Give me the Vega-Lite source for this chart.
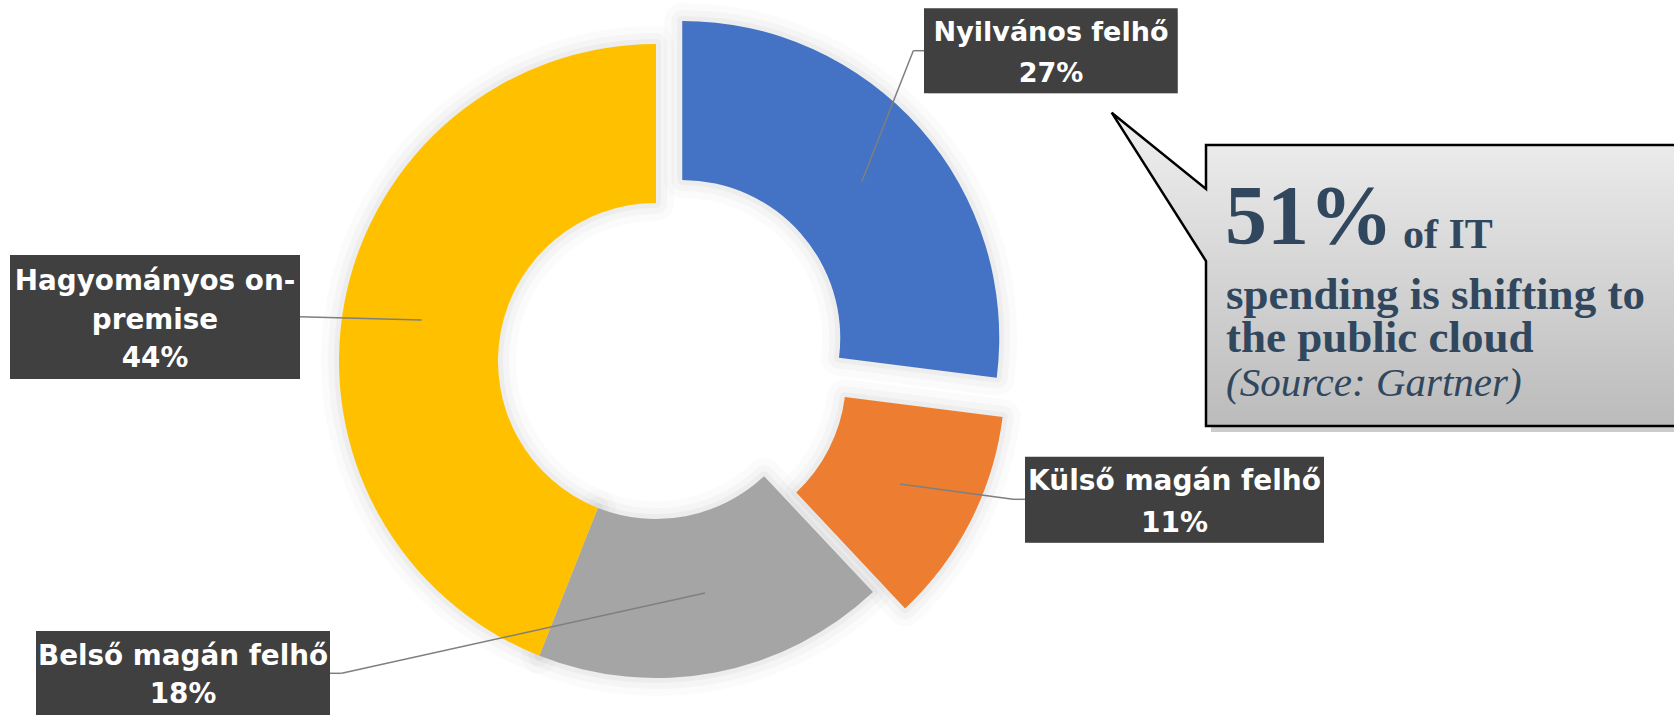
{
  "$schema": "https://vega.github.io/schema/vega-lite/v6.json",
  "width": 1674,
  "height": 715,
  "autosize": "none",
  "padding": 0,
  "background": "white",
  "config": {"view": {"stroke": null}},
  "datasets": {
    "slices": [
      {"category": "Nyilvános felhő", "value": 27},
      {"category": "Külső magán felhő", "value": 11},
      {"category": "Belső magán felhő", "value": 18},
      {"category": "Hagyományos on-premise", "value": 44}
    ]
  },
  "layer": [
    {
      "data": {"name": "slices"},
      "transform": [
        {"window": [{"op": "row_number", "as": "idx"}]},
        {"stack": "value", "groupby": [], "sort": [{"field": "idx", "order": "ascending"}], "as": ["t0", "t1"]},
        {"filter": "datum.idx >= 3"}
      ],
      "mark": {"type": "arc", "innerRadius": 158, "outerRadius": 317, "fill": "#000", "fillOpacity": 0, "stroke": "#000", "strokeOpacity": 0.016, "strokeWidth": 36, "strokeJoin": "round"},
      "encoding": {
        "x": {"datum": 656, "type": "quantitative", "scale": {"domain": [0, 1674], "nice": false, "zero": false}, "axis": null},
        "y": {"datum": 361, "type": "quantitative", "scale": {"domain": [0, 715], "nice": false, "zero": false, "reverse": true}, "axis": null},
        "theta": {"field": "t0", "type": "quantitative", "stack": null, "scale": {"domain": [0, 100], "range": [0, 6.283185307179586]}},
        "theta2": {"field": "t1"}
      }
    },
    {
      "data": {"name": "slices"},
      "transform": [
        {"window": [{"op": "row_number", "as": "idx"}]},
        {"stack": "value", "groupby": [], "sort": [{"field": "idx", "order": "ascending"}], "as": ["t0", "t1"]},
        {"filter": "datum.idx >= 3"}
      ],
      "mark": {"type": "arc", "innerRadius": 158, "outerRadius": 317, "fill": "#000", "fillOpacity": 0, "stroke": "#000", "strokeOpacity": 0.022, "strokeWidth": 22, "strokeJoin": "round"},
      "encoding": {
        "x": {"datum": 656, "type": "quantitative", "axis": null},
        "y": {"datum": 361, "type": "quantitative", "axis": null},
        "theta": {"field": "t0", "type": "quantitative", "stack": null},
        "theta2": {"field": "t1"}
      }
    },
    {
      "data": {"name": "slices"},
      "transform": [
        {"window": [{"op": "row_number", "as": "idx"}]},
        {"stack": "value", "groupby": [], "sort": [{"field": "idx", "order": "ascending"}], "as": ["t0", "t1"]},
        {"filter": "datum.idx >= 3"}
      ],
      "mark": {"type": "arc", "innerRadius": 158, "outerRadius": 317, "fill": "#000", "fillOpacity": 0, "stroke": "#000", "strokeOpacity": 0.032, "strokeWidth": 10, "strokeJoin": "round"},
      "encoding": {
        "x": {"datum": 656, "type": "quantitative", "axis": null},
        "y": {"datum": 361, "type": "quantitative", "axis": null},
        "theta": {"field": "t0", "type": "quantitative", "stack": null},
        "theta2": {"field": "t1"}
      }
    },
    {
      "data": {"name": "slices"},
      "transform": [
        {"window": [{"op": "row_number", "as": "idx"}]},
        {"stack": "value", "groupby": [], "sort": [{"field": "idx", "order": "ascending"}], "as": ["t0", "t1"]},
        {"filter": "datum.idx == 1"}
      ],
      "mark": {"type": "arc", "innerRadius": 158, "outerRadius": 317, "fill": "#000", "fillOpacity": 0, "stroke": "#000", "strokeOpacity": 0.016, "strokeWidth": 36, "strokeJoin": "round"},
      "encoding": {
        "x": {"datum": 682.25, "type": "quantitative", "axis": null},
        "y": {"datum": 337.9, "type": "quantitative", "axis": null},
        "theta": {"field": "t0", "type": "quantitative", "stack": null},
        "theta2": {"field": "t1"}
      }
    },
    {
      "data": {"name": "slices"},
      "transform": [
        {"window": [{"op": "row_number", "as": "idx"}]},
        {"stack": "value", "groupby": [], "sort": [{"field": "idx", "order": "ascending"}], "as": ["t0", "t1"]},
        {"filter": "datum.idx == 1"}
      ],
      "mark": {"type": "arc", "innerRadius": 158, "outerRadius": 317, "fill": "#000", "fillOpacity": 0, "stroke": "#000", "strokeOpacity": 0.022, "strokeWidth": 22, "strokeJoin": "round"},
      "encoding": {
        "x": {"datum": 682.25, "type": "quantitative", "axis": null},
        "y": {"datum": 337.9, "type": "quantitative", "axis": null},
        "theta": {"field": "t0", "type": "quantitative", "stack": null},
        "theta2": {"field": "t1"}
      }
    },
    {
      "data": {"name": "slices"},
      "transform": [
        {"window": [{"op": "row_number", "as": "idx"}]},
        {"stack": "value", "groupby": [], "sort": [{"field": "idx", "order": "ascending"}], "as": ["t0", "t1"]},
        {"filter": "datum.idx == 1"}
      ],
      "mark": {"type": "arc", "innerRadius": 158, "outerRadius": 317, "fill": "#000", "fillOpacity": 0, "stroke": "#000", "strokeOpacity": 0.032, "strokeWidth": 10, "strokeJoin": "round"},
      "encoding": {
        "x": {"datum": 682.25, "type": "quantitative", "axis": null},
        "y": {"datum": 337.9, "type": "quantitative", "axis": null},
        "theta": {"field": "t0", "type": "quantitative", "stack": null},
        "theta2": {"field": "t1"}
      }
    },
    {
      "data": {"name": "slices"},
      "transform": [
        {"window": [{"op": "row_number", "as": "idx"}]},
        {"stack": "value", "groupby": [], "sort": [{"field": "idx", "order": "ascending"}], "as": ["t0", "t1"]},
        {"filter": "datum.idx == 2"}
      ],
      "mark": {"type": "arc", "innerRadius": 158, "outerRadius": 317, "fill": "#000", "fillOpacity": 0, "stroke": "#000", "strokeOpacity": 0.016, "strokeWidth": 36, "strokeJoin": "round"},
      "encoding": {
        "x": {"datum": 688.1, "type": "quantitative", "axis": null},
        "y": {"datum": 377.3, "type": "quantitative", "axis": null},
        "theta": {"field": "t0", "type": "quantitative", "stack": null},
        "theta2": {"field": "t1"}
      }
    },
    {
      "data": {"name": "slices"},
      "transform": [
        {"window": [{"op": "row_number", "as": "idx"}]},
        {"stack": "value", "groupby": [], "sort": [{"field": "idx", "order": "ascending"}], "as": ["t0", "t1"]},
        {"filter": "datum.idx == 2"}
      ],
      "mark": {"type": "arc", "innerRadius": 158, "outerRadius": 317, "fill": "#000", "fillOpacity": 0, "stroke": "#000", "strokeOpacity": 0.022, "strokeWidth": 22, "strokeJoin": "round"},
      "encoding": {
        "x": {"datum": 688.1, "type": "quantitative", "axis": null},
        "y": {"datum": 377.3, "type": "quantitative", "axis": null},
        "theta": {"field": "t0", "type": "quantitative", "stack": null},
        "theta2": {"field": "t1"}
      }
    },
    {
      "data": {"name": "slices"},
      "transform": [
        {"window": [{"op": "row_number", "as": "idx"}]},
        {"stack": "value", "groupby": [], "sort": [{"field": "idx", "order": "ascending"}], "as": ["t0", "t1"]},
        {"filter": "datum.idx == 2"}
      ],
      "mark": {"type": "arc", "innerRadius": 158, "outerRadius": 317, "fill": "#000", "fillOpacity": 0, "stroke": "#000", "strokeOpacity": 0.032, "strokeWidth": 10, "strokeJoin": "round"},
      "encoding": {
        "x": {"datum": 688.1, "type": "quantitative", "axis": null},
        "y": {"datum": 377.3, "type": "quantitative", "axis": null},
        "theta": {"field": "t0", "type": "quantitative", "stack": null},
        "theta2": {"field": "t1"}
      }
    },
    {
      "data": {"name": "slices"},
      "transform": [
        {"window": [{"op": "row_number", "as": "idx"}]},
        {"stack": "value", "groupby": [], "sort": [{"field": "idx", "order": "ascending"}], "as": ["t0", "t1"]},
        {"filter": "datum.idx >= 3"}
      ],
      "mark": {"type": "arc", "innerRadius": 158, "outerRadius": 317},
      "encoding": {
        "x": {"datum": 656, "type": "quantitative", "axis": null},
        "y": {"datum": 361, "type": "quantitative", "axis": null},
        "theta": {"field": "t0", "type": "quantitative", "stack": null},
        "theta2": {"field": "t1"},
        "color": {"field": "category", "type": "nominal", "legend": null, "scale": {"domain": ["Nyilvános felhő", "Külső magán felhő", "Belső magán felhő", "Hagyományos on-premise"], "range": ["#4472C4", "#ED7D31", "#A5A5A5", "#FFC000"]}}
      }
    },
    {
      "data": {"name": "slices"},
      "transform": [
        {"window": [{"op": "row_number", "as": "idx"}]},
        {"stack": "value", "groupby": [], "sort": [{"field": "idx", "order": "ascending"}], "as": ["t0", "t1"]},
        {"filter": "datum.idx == 1"}
      ],
      "mark": {"type": "arc", "innerRadius": 158, "outerRadius": 317},
      "encoding": {
        "x": {"datum": 682.25, "type": "quantitative", "axis": null},
        "y": {"datum": 337.9, "type": "quantitative", "axis": null},
        "theta": {"field": "t0", "type": "quantitative", "stack": null},
        "theta2": {"field": "t1"},
        "color": {"field": "category", "type": "nominal", "legend": null}
      }
    },
    {
      "data": {"name": "slices"},
      "transform": [
        {"window": [{"op": "row_number", "as": "idx"}]},
        {"stack": "value", "groupby": [], "sort": [{"field": "idx", "order": "ascending"}], "as": ["t0", "t1"]},
        {"filter": "datum.idx == 2"}
      ],
      "mark": {"type": "arc", "innerRadius": 158, "outerRadius": 317},
      "encoding": {
        "x": {"datum": 688.1, "type": "quantitative", "axis": null},
        "y": {"datum": 377.3, "type": "quantitative", "axis": null},
        "theta": {"field": "t0", "type": "quantitative", "stack": null},
        "theta2": {"field": "t1"},
        "color": {"field": "category", "type": "nominal", "legend": null}
      }
    },
    {
      "data": {"values": [{}]},
      "mark": {"type": "rule", "color": "#7f7f7f", "strokeWidth": 1.5},
      "encoding": {"x": {"datum": 861.7, "type": "quantitative", "axis": null}, "y": {"datum": 181.7, "type": "quantitative", "axis": null}, "x2": {"datum": 913.3}, "y2": {"datum": 50.7}}
    },
    {
      "data": {"values": [{}]},
      "mark": {"type": "rule", "color": "#7f7f7f", "strokeWidth": 1.5},
      "encoding": {"x": {"datum": 913.3, "type": "quantitative", "axis": null}, "y": {"datum": 50.7, "type": "quantitative", "axis": null}, "x2": {"datum": 924}, "y2": {"datum": 50.7}}
    },
    {
      "data": {"values": [{}]},
      "mark": {"type": "rule", "color": "#7f7f7f", "strokeWidth": 1.5},
      "encoding": {"x": {"datum": 900, "type": "quantitative", "axis": null}, "y": {"datum": 484, "type": "quantitative", "axis": null}, "x2": {"datum": 1013}, "y2": {"datum": 499.3}}
    },
    {
      "data": {"values": [{}]},
      "mark": {"type": "rule", "color": "#7f7f7f", "strokeWidth": 1.5},
      "encoding": {"x": {"datum": 1013, "type": "quantitative", "axis": null}, "y": {"datum": 499.3, "type": "quantitative", "axis": null}, "x2": {"datum": 1025}, "y2": {"datum": 499.3}}
    },
    {
      "data": {"values": [{}]},
      "mark": {"type": "rule", "color": "#7f7f7f", "strokeWidth": 1.5},
      "encoding": {"x": {"datum": 705, "type": "quantitative", "axis": null}, "y": {"datum": 593, "type": "quantitative", "axis": null}, "x2": {"datum": 341.7}, "y2": {"datum": 673.3}}
    },
    {
      "data": {"values": [{}]},
      "mark": {"type": "rule", "color": "#7f7f7f", "strokeWidth": 1.5},
      "encoding": {"x": {"datum": 341.7, "type": "quantitative", "axis": null}, "y": {"datum": 673.3, "type": "quantitative", "axis": null}, "x2": {"datum": 330}, "y2": {"datum": 673.3}}
    },
    {
      "data": {"values": [{}]},
      "mark": {"type": "rule", "color": "#7f7f7f", "strokeWidth": 1.5},
      "encoding": {"x": {"datum": 421.7, "type": "quantitative", "axis": null}, "y": {"datum": 320, "type": "quantitative", "axis": null}, "x2": {"datum": 300}, "y2": {"datum": 316.7}}
    },
    {
      "data": {"values": [{}]},
      "mark": {"type": "rect", "fill": "#000", "opacity": 0.28, "xOffset": 4, "yOffset": 5},
      "encoding": {"x": {"datum": 924, "type": "quantitative", "axis": null}, "x2": {"datum": 1177.7}, "y": {"datum": 8.3, "type": "quantitative", "axis": null}, "y2": {"datum": 93.3}}
    },
    {
      "data": {"values": [{}]},
      "mark": {"type": "rect", "fill": "#000", "opacity": 0.28, "xOffset": 4, "yOffset": 5},
      "encoding": {"x": {"datum": 1025, "type": "quantitative", "axis": null}, "x2": {"datum": 1324}, "y": {"datum": 456.7, "type": "quantitative", "axis": null}, "y2": {"datum": 542.7}}
    },
    {
      "data": {"values": [{}]},
      "mark": {"type": "rect", "fill": "#000", "opacity": 0.28, "xOffset": 4, "yOffset": 5},
      "encoding": {"x": {"datum": 36, "type": "quantitative", "axis": null}, "x2": {"datum": 330}, "y": {"datum": 631, "type": "quantitative", "axis": null}, "y2": {"datum": 716}}
    },
    {
      "data": {"values": [{}]},
      "mark": {"type": "rect", "fill": "#000", "opacity": 0.28, "xOffset": 4, "yOffset": 5},
      "encoding": {"x": {"datum": 10, "type": "quantitative", "axis": null}, "x2": {"datum": 300}, "y": {"datum": 255, "type": "quantitative", "axis": null}, "y2": {"datum": 379}}
    },
    {
      "data": {"values": [{}]},
      "mark": {"type": "rect", "fill": "#404040"},
      "encoding": {"x": {"datum": 924, "type": "quantitative", "axis": null}, "x2": {"datum": 1177.7}, "y": {"datum": 8.3, "type": "quantitative", "axis": null}, "y2": {"datum": 93.3}}
    },
    {
      "data": {"values": [{}]},
      "mark": {"type": "rect", "fill": "#404040"},
      "encoding": {"x": {"datum": 1025, "type": "quantitative", "axis": null}, "x2": {"datum": 1324}, "y": {"datum": 456.7, "type": "quantitative", "axis": null}, "y2": {"datum": 542.7}}
    },
    {
      "data": {"values": [{}]},
      "mark": {"type": "rect", "fill": "#404040"},
      "encoding": {"x": {"datum": 36, "type": "quantitative", "axis": null}, "x2": {"datum": 330}, "y": {"datum": 631, "type": "quantitative", "axis": null}, "y2": {"datum": 716}}
    },
    {
      "data": {"values": [{}]},
      "mark": {"type": "rect", "fill": "#404040"},
      "encoding": {"x": {"datum": 10, "type": "quantitative", "axis": null}, "x2": {"datum": 300}, "y": {"datum": 255, "type": "quantitative", "axis": null}, "y2": {"datum": 379}}
    },
    {
      "data": {"name": "slices"},
      "transform": [
        {"window": [{"op": "row_number", "as": "idx"}]},
        {"filter": "datum.idx == 1"},
        {"calculate": "[datum.category, datum.value + '%']", "as": "lines"}
      ],
      "mark": {"type": "text", "align": "center", "baseline": "alphabetic", "font": "DejaVu Sans", "fontWeight": "bold", "fontSize": 27, "lineHeight": 40.7, "fill": "white"},
      "encoding": {"x": {"datum": 1051, "type": "quantitative", "axis": null}, "y": {"datum": 41, "type": "quantitative", "axis": null}, "text": {"field": "lines", "type": "nominal"}}
    },
    {
      "data": {"name": "slices"},
      "transform": [
        {"window": [{"op": "row_number", "as": "idx"}]},
        {"filter": "datum.idx == 2"},
        {"calculate": "[datum.category, datum.value + '%']", "as": "lines"}
      ],
      "mark": {"type": "text", "align": "center", "baseline": "alphabetic", "font": "DejaVu Sans", "fontWeight": "bold", "fontSize": 28, "lineHeight": 41.7, "fill": "white"},
      "encoding": {"x": {"datum": 1174.5, "type": "quantitative", "axis": null}, "y": {"datum": 490, "type": "quantitative", "axis": null}, "text": {"field": "lines", "type": "nominal"}}
    },
    {
      "data": {"name": "slices"},
      "transform": [
        {"window": [{"op": "row_number", "as": "idx"}]},
        {"filter": "datum.idx == 3"},
        {"calculate": "[datum.category, datum.value + '%']", "as": "lines"}
      ],
      "mark": {"type": "text", "align": "center", "baseline": "alphabetic", "font": "DejaVu Sans", "fontWeight": "bold", "fontSize": 27.8, "lineHeight": 38, "fill": "white"},
      "encoding": {"x": {"datum": 183, "type": "quantitative", "axis": null}, "y": {"datum": 665, "type": "quantitative", "axis": null}, "text": {"field": "lines", "type": "nominal"}}
    },
    {
      "data": {"name": "slices"},
      "transform": [
        {"window": [{"op": "row_number", "as": "idx"}]},
        {"filter": "datum.idx == 4"},
        {"calculate": "[split(datum.category, '-')[0] + '-', split(datum.category, '-')[1], datum.value + '%']", "as": "lines"}
      ],
      "mark": {"type": "text", "align": "center", "baseline": "alphabetic", "font": "DejaVu Sans", "fontWeight": "bold", "fontSize": 27.8, "lineHeight": 38.5, "fill": "white"},
      "encoding": {"x": {"datum": 155, "type": "quantitative", "axis": null}, "y": {"datum": 290, "type": "quantitative", "axis": null}, "text": {"field": "lines", "type": "nominal"}}
    },
    {
      "data": {"values": [{}]},
      "mark": {"type": "point", "shape": "M -0.936,-0.56 L 1.04,-0.56 L 1.04,0.564 L -0.936,0.564 L -0.936,-0.096 L -1.3132,-0.6892 L -0.936,-0.384 Z", "size": 250000, "filled": true, "fill": "#000", "opacity": 0.2, "strokeWidth": 0, "xOffset": 5, "yOffset": 6},
      "encoding": {"x": {"datum": 1440, "type": "quantitative", "axis": null}, "y": {"datum": 285, "type": "quantitative", "axis": null}}
    },
    {
      "data": {"values": [{}]},
      "mark": {"type": "point", "shape": "M -0.936,-0.56 L 1.04,-0.56 L 1.04,0.564 L -0.936,0.564 L -0.936,-0.096 L -1.3132,-0.6892 L -0.936,-0.384 Z", "size": 250000, "filled": true, "opacity": 1, "fillOpacity": 1, "fill": {"gradient": "linear", "x1": 0, "y1": 0, "x2": 0, "y2": 1, "stops": [{"offset": 0, "color": "#f0f0f0"}, {"offset": 1, "color": "#bbbbbb"}]}, "stroke": "#000", "strokeWidth": 2.5, "strokeOpacity": 1},
      "encoding": {"x": {"datum": 1440, "type": "quantitative", "axis": null}, "y": {"datum": 285, "type": "quantitative", "axis": null}}
    },
    {
      "data": {"values": [{}]},
      "mark": {"type": "text", "text": "51%", "align": "left", "baseline": "alphabetic", "font": "Liberation Serif", "fontWeight": "bold", "fontSize": 84, "fill": "#30475e"},
      "encoding": {"x": {"datum": 1225, "type": "quantitative", "axis": null}, "y": {"datum": 244, "type": "quantitative", "axis": null}}
    },
    {
      "data": {"values": [{}]},
      "mark": {"type": "text", "text": "of IT", "align": "left", "baseline": "alphabetic", "font": "Liberation Serif", "fontWeight": "bold", "fontSize": 42, "fill": "#30475e"},
      "encoding": {"x": {"datum": 1403, "type": "quantitative", "axis": null}, "y": {"datum": 248, "type": "quantitative", "axis": null}}
    },
    {
      "data": {"values": [{}]},
      "mark": {"type": "text", "text": ["spending is shifting to", "the public cloud"], "lineHeight": 43, "align": "left", "baseline": "alphabetic", "font": "Liberation Serif", "fontWeight": "bold", "fontSize": 45, "fill": "#30475e"},
      "encoding": {"x": {"datum": 1226, "type": "quantitative", "axis": null}, "y": {"datum": 308.5, "type": "quantitative", "axis": null}}
    },
    {
      "data": {"values": [{}]},
      "mark": {"type": "text", "text": "(Source: Gartner)", "align": "left", "baseline": "alphabetic", "font": "Liberation Serif", "fontStyle": "italic", "fontSize": 41, "fill": "#30475e"},
      "encoding": {"x": {"datum": 1226, "type": "quantitative", "axis": null}, "y": {"datum": 395.5, "type": "quantitative", "axis": null}}
    }
  ]
}
